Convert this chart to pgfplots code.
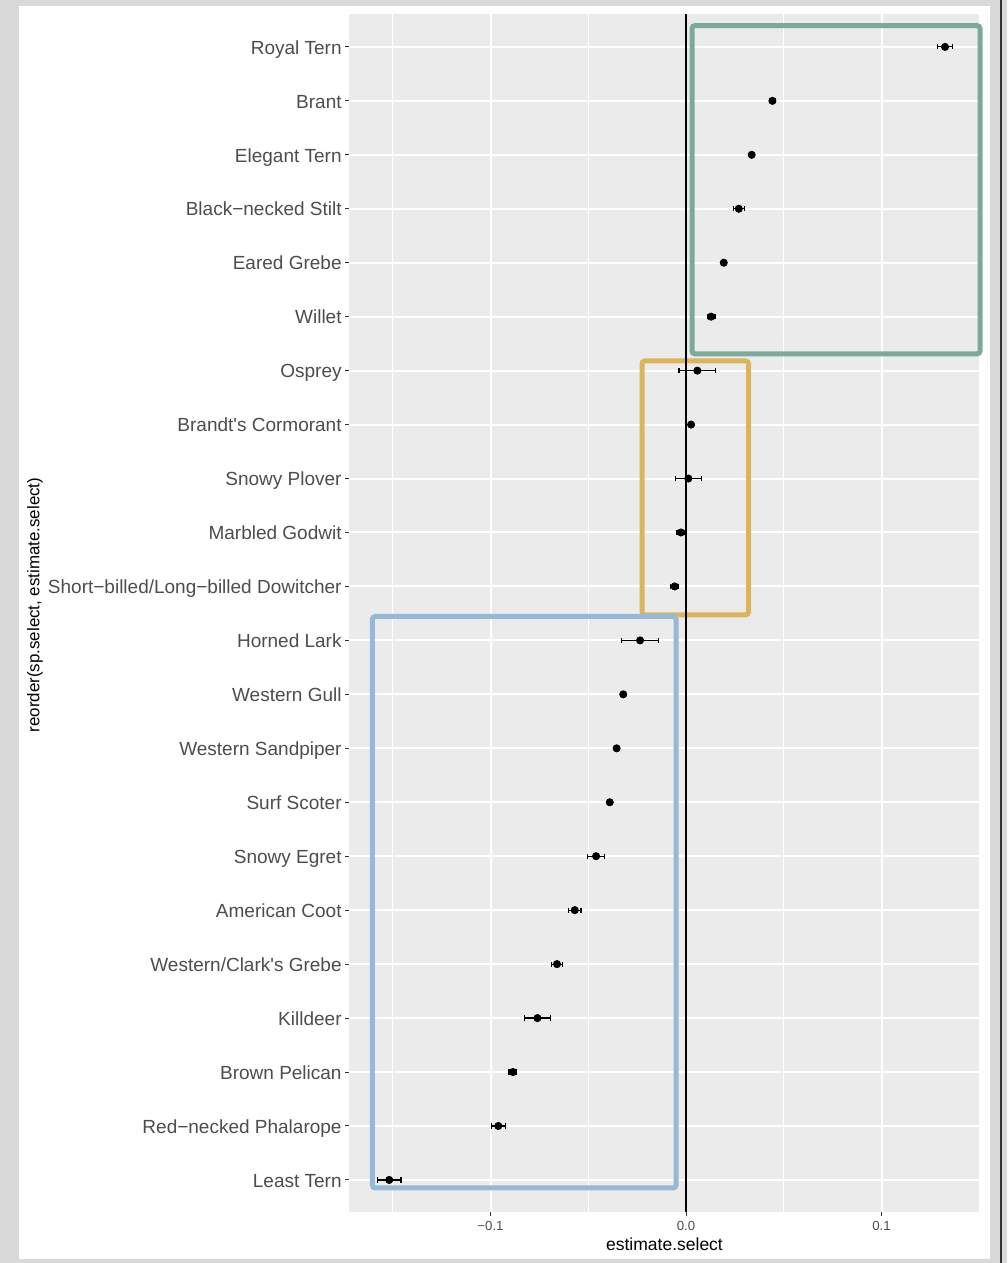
\documentclass[border=0pt]{standalone}
\usepackage{fontspec}
\setmainfont{Liberation Sans}
\usepackage{pgfplots}
\pgfplotsset{compat=1.18}
\usepackage{pgfplotstable}
\definecolor{framegray}{HTML}{D9D9D9}
\definecolor{darkline}{HTML}{333333}
\definecolor{ggbg}{HTML}{EBEBEB}
\definecolor{tickgray}{HTML}{333333}
\definecolor{labgray}{HTML}{4D4D4D}
\definecolor{boxgreen}{HTML}{7BAA9B}
\definecolor{boxgold}{HTML}{DBB45C}
\definecolor{boxblue}{HTML}{96B9D7}

\pgfplotstableread{
pos est err
1 -0.1518 0.0060
2 -0.0960 0.0035
3 -0.0885 0.0020
4 -0.0760 0.0067
5 -0.0660 0.0027
6 -0.0569 0.0032
7 -0.0460 0.0042
8 -0.0390 0.0010
9 -0.0355 0.0010
10 -0.0321 0.0010
11 -0.0235 0.0096
12 -0.0058 0.0020
13 -0.0026 0.0020
14 0.0012 0.0066
15 0.0026 0.0010
16 0.0058 0.0094
17 0.0128 0.0020
18 0.0193 0.0010
19 0.0270 0.0028
20 0.0336 0.0010
21 0.0442 0.0015
22 0.1325 0.0037
}\datatab

\begin{document}
\begin{tikzpicture}
\fill[framegray] (0,0) rectangle (503.5pt,631.5pt);
\fill[white] (9.5pt,2pt) rectangle (495pt,628.5pt);
\fill[darkline] (499.75pt,0) rectangle (500.75pt,631.5pt);
\begin{axis}[
  at={(174.5pt,25.5pt)}, anchor=south west,
  scale only axis, width=315.5pt, height=599pt,
  xmin=-0.17238, xmax=0.15038, ymin=0.406, ymax=22.61,
  axis background/.style={fill=ggbg},
  axis line style={draw=none},
  clip=false,
  xtick={-0.1,0,0.1},
  xticklabels={−0.1,0.0,0.1},
  minor xtick={-0.15,-0.05,0.05,0.15},
  ytick={1,...,22},
  yticklabels={Least Tern,Red−necked Phalarope,Brown Pelican,Killdeer,Western/Clark\textquotesingle s Grebe,American Coot,Snowy Egret,Surf Scoter,Western Sandpiper,Western Gull,Horned Lark,Short−billed/Long−billed Dowitcher,Marbled Godwit,Snowy Plover,Brandt\textquotesingle s Cormorant,Osprey,Willet,Eared Grebe,Black−necked Stilt,Elegant Tern,Brant,Royal Tern},
  xmajorgrids, ymajorgrids, xminorgrids,
  major grid style={white, line width=1pt},
  minor grid style={white, line width=0.5pt},
  tick align=outside,
  xtick pos=bottom, ytick pos=left,
  major tick length=2pt, minor tick length=0pt,
  tick style={tickgray, line width=0.5pt},
  yticklabel style={font=\fontsize{9.5}{11}\selectfont, text=labgray, anchor=east, inner sep=0pt, text height=0.72em, text depth=0pt, xshift=-1.5pt},
  xticklabel style={font=\fontsize{6.6}{8}\selectfont, text=labgray, anchor=north, inner sep=0pt, yshift=-2.5pt},
  xlabel={estimate.select},
  ylabel={reorder(sp.select, estimate.select)},
  xlabel style={at={(axis description cs:0.5,-0.0267)}, anchor=center, inner sep=0pt, font=\fontsize{8.75}{10}\selectfont},
  ylabel style={at={(axis description cs:-0.4976,0.5067)}, anchor=center, rotate=0, inner sep=0pt, font=\fontsize{8.45}{10}\selectfont},
]
\draw[boxgreen, line width=2.5pt, rounded corners=1.5pt] (axis cs:0.00307,16.31) rectangle (axis cs:0.1504,22.395);
\draw[boxgold, line width=2.5pt, rounded corners=1.5pt] (axis cs:-0.0225,11.472) rectangle (axis cs:0.0320,16.18);
\draw[boxblue, line width=2.5pt, rounded corners=1.5pt] (axis cs:-0.1604,0.851) rectangle (axis cs:-0.0051,11.444);
\draw[black, line width=0.6pt] (axis cs:0,0.406) -- (axis cs:0,22.61);
\addplot[only marks, mark=*, mark size=1.8pt, black,
  error bars/.cd, x dir=both, x explicit,
  error bar style={line width=0.6pt, black},
  error mark options={rotate=90, mark size=1.3pt, line width=0.6pt, black}]
  table[x=est, y=pos, x error=err] {\datatab};
\end{axis}
\end{tikzpicture}
\end{document}
